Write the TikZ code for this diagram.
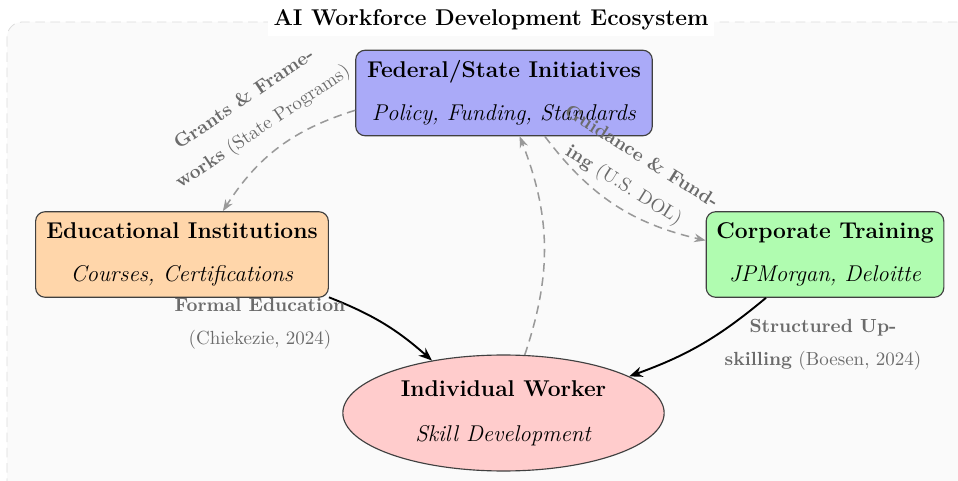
\documentclass[tikz,border=0pt]{standalone}
\usetikzlibrary{arrows.meta,shapes.geometric}
\definecolor{fedblue}{HTML}{AAAAF8}
\definecolor{eduorange}{HTML}{FFD6AA}
\definecolor{corpgreen}{HTML}{B0FCB0}
\definecolor{indred}{HTML}{FFCCCC}
\definecolor{bgfill}{HTML}{FAFAFA}
\begin{document}
\begin{tikzpicture}[x=0.526pt,y=-0.526pt,
  box/.style={draw=black!75, rounded corners=5pt, line width=0.6pt, align=center,
    inner sep=5pt, minimum height=45pt, font=\large},
  oval/.style={ellipse, draw=black!75, line width=0.6pt, align=center, inner sep=0pt,
    minimum width=169pt, minimum height=61pt, font=\large, fill=indred},
  dasharrow/.style={draw=black!40, line width=0.8pt, dash pattern=on 4.5pt off 3pt,
    -{Stealth[length=6pt,width=4.5pt]}},
  solidarrow/.style={draw=black, line width=1pt, -{Stealth[length=7pt,width=5.5pt]}},
  lbl/.style={align=center, text=black!58, inner sep=2pt,
    font=\fontsize{10}{17.5}\selectfont}
]
\useasboundingbox (0,0) rectangle (958,481);
\draw[draw=black!14, fill=bgfill, dash pattern=on 5pt off 3pt, rounded corners=8pt]
  (7,22) rectangle (985,510);
\node[fill=white, font=\large\bfseries, inner sep=3pt] (title) at (491,20)
  {AI Workforce Development Ecosystem};

\node[box, fill=fedblue, minimum width=156pt] (fed) at (504,93)
  {\textbf{Federal/State Initiatives}\\[8.8pt]\textit{Policy, Funding, Standards}};
\node[box, fill=eduorange, minimum width=154pt] (edu) at (182,254.5)
  {\textbf{Educational Institutions}\\[8.8pt]\textit{Courses, Certifications}};
\node[box, fill=corpgreen, minimum width=125pt] (corp) at (825,254.5)
  {\textbf{Corporate Training}\\[8.8pt]\textit{JPMorgan, Deloitte}};
\node[oval] (ind) at (503.5,413)
  {\textbf{Individual Worker}\\[9.7pt]\textit{Skill Development}};

\draw[dasharrow] (fed) to[bend right=20] (edu);
\draw[dasharrow] (fed) to[bend right=20] (corp);
\draw[dasharrow] (ind) to[bend right=20] (fed);
\draw[solidarrow] (edu) to[bend left=10] (ind);
\draw[solidarrow] (corp) to[bend left=10] (ind);

\node[lbl, rotate=34] (lgrants) at (254,114)
  {\textbf{Grants \& Frame-}\\\textbf{works} (State Programs)};
\node[lbl, rotate=-32] (lguide) at (632,172)
  {\textbf{Guidance \& Fund-}\\\textbf{ing} (U.S. DOL)};
\node[lbl] (lformal) at (260,324)
  {\textbf{Formal Education}\\(Chiekezie, 2024)};
\node[lbl] (lstruct) at (823,345)
  {\textbf{Structured Up-}\\\textbf{skilling} (Boesen, 2024)};
\end{tikzpicture}
\end{document}
